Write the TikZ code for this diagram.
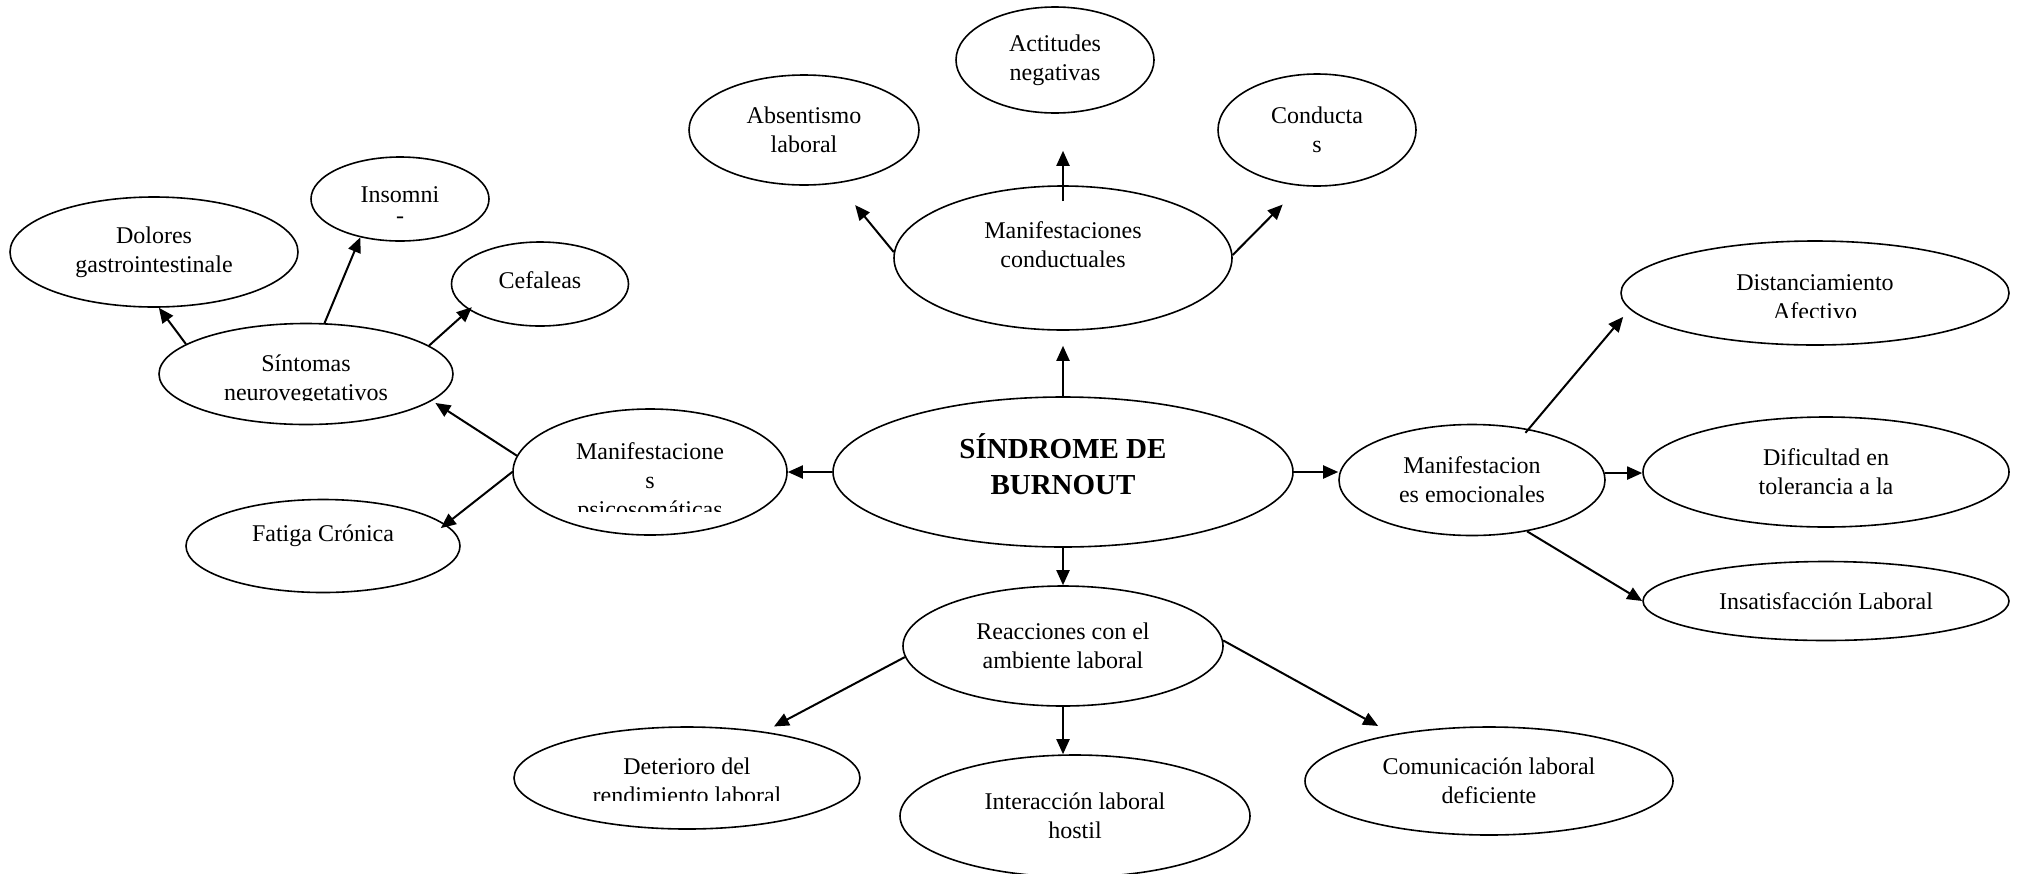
\documentclass[tikz,border=0pt]{standalone}
\usepackage{fontspec}
\setmainfont{Liberation Serif}
\usetikzlibrary{arrows.meta,shapes.geometric}

\begin{document}
\begin{tikzpicture}[x=1pt, y=-1pt,
		bub/.style 2 args={ellipse, draw, line width=1.6pt, minimum width=#1pt, minimum height=#2pt,
				inner sep=2pt, align=center, font=\fontsize{24}{29}\selectfont},
		txt/.style={align=center, inner sep=0pt, font=\fontsize{24}{29}\selectfont},
		arr/.style={line width=2pt, -{Triangle[length=15pt,width=13pt]}}]
	\useasboundingbox (0,0) rectangle (2025,873);

	% Central node
	\node[bub={460}{150}] (sind) at (1063,472) {};
	\node[txt, font=\bfseries\fontsize{29}{36}\selectfont] (sind-t) at (1063,464) {SÍNDROME DE\\BURNOUT};

	% Manifestaciones conductuales
	\node[bub={338}{144}] (cond) at (1063,258) {};
	\node[txt] (cond-t) at (1063,245) {Manifestaciones\\conductuales};
	\node[bub={198}{106}] (act) at (1055,60) {Actitudes\\negativas};
	\node[bub={230}{110}] (abs) at (804,130) {Absentismo\\laboral};
	\node[bub={198}{112}] (cdt) at (1317,130) {Conducta\\s};

	% Manifestaciones psicosomaticas (text cut by the box)
	\node[bub={274}{126}] (psi) at (650,472) {};
	\begin{scope}
		\clip (500,420) rectangle (800,511);
		\node[txt] (psi-t) at (650,483) {Manifestacione\\s\\psicosomáticas};
	\end{scope}
	\node[bub={294}{101}] (sin) at (306,374) {};
	\begin{scope}
		\clip (150,330) rectangle (460,400);
		\node[txt] (sin-t) at (306,380) {Síntomas\\neurovegetativos};
	\end{scope}
	\node[bub={288}{110}] (dol) at (154,252) {Dolores\\gastrointestinale};
	\node[bub={178}{84}] (ins) at (400,199) {};
	\node[txt] (ins-t) at (400,205) {Insomni\\[-8pt]-};
	\node[bub={177}{84}] (cef) at (540,284) {};
	\node[txt] (cef-t) at (540,280) {Cefaleas};
	\node[bub={274}{93}] (fat) at (323,546) {};
	\node[txt] (fat-t) at (323,536) {Fatiga Crónica};

	% Manifestaciones emocionales
	\node[bub={266}{111}] (emo) at (1472,480) {Manifestacion\\es emocionales};
	\node[bub={388}{104}] (dis) at (1815,293) {};
	\begin{scope}
		\clip (1640,250) rectangle (1990,317);
		\node[txt] (dis-t) at (1815,297) {Distanciamiento\\Afectivo};
	\end{scope}
	\node[bub={366}{110}] (dif) at (1826,472) {Dificultad en\\tolerancia a la};
	\node[bub={366}{79}] (insat) at (1826,601) {Insatisfacción Laboral};

	% Reacciones con el ambiente laboral
	\node[bub={320}{120}] (rea) at (1063,646) {Reacciones con el\\ambiente laboral};
	\node[bub={346}{102}] (det) at (687,778) {};
	\begin{scope}
		\clip (520,740) rectangle (860,800);
		\node[txt] (det-t) at (687,781) {Deterioro del\\rendimiento laboral};
	\end{scope}
	\node[bub={350}{122}] (inte) at (1075,816) {Interacción laboral\\hostil};
	\node[bub={368}{108}] (com) at (1489,781) {Comunicación laboral\\deficiente};

	% Draw the arrows
	\draw[arr, shorten >=15pt] (sind.north) -- (cond.south);
	\draw[arr, shorten <=-16pt, shorten >=37pt] (cond.north) -- (cond.north |- act.south);
	\draw[arr, shorten >=28pt] (cond.178) -- (abs.-58);
	\draw[arr, shorten >=26pt] (cond.1) -- (cdt.-106);

	\draw[arr] (sind.west) -- (psi.east);
	\draw[arr, shorten >=4pt] (psi.173) -- (sin.-12);
	\draw[arr, shorten >=-6pt] (psi.west) -- (fat.10);
	\draw[arr] (sin.166) -- (dol.-85);
	\draw[arr] (sin.70) -- (ins.-136);
	\draw[arr, shorten >=-4pt] (sin.13) -- (cef.-160);

	\draw[arr] (sind.east) -- (sind.east -| emo.west);
	\draw[arr, shorten <=-5pt, shorten >=10pt] (emo.42) -- (dis.-175);
	\draw[arr] (emo.3) -- (emo.3 -| dif.west);
	\draw[arr] (emo.-43) -- (insat.west);

	\draw[arr] (sind.south) -- (rea.north);
	\draw[arr, shorten >=11pt] (rea.-176) -- (det.31);
	\draw[arr] (rea.south) -- (rea.south |- inte.north);
	\draw[arr, shorten >=17pt] (rea.2) -- (com.154);
\end{tikzpicture}
\end{document}
